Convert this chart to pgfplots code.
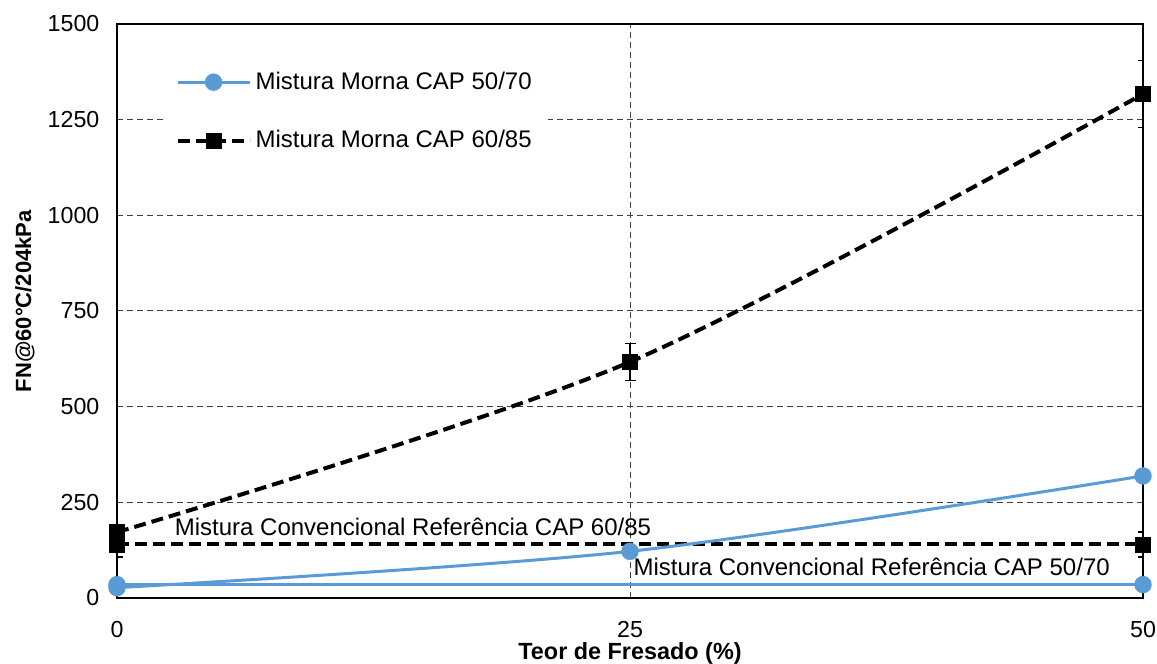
\documentclass[border=0pt]{standalone}
\usepackage{fontspec}
\setmainfont{Liberation Sans}
\usepackage{pgfplots}
\pgfplotsset{compat=1.18}
\usetikzlibrary{calc}
\definecolor{mblue}{RGB}{91,155,213}
\begin{document}
\begin{tikzpicture}
\begin{axis}[
  scale only axis, width=513pt, height=287pt,
  xmin=0, xmax=50, ymin=0, ymax=1500,
  xtick={0,25,50}, ytick={0,250,...,1500},
  grid=major,
  major grid style={dash pattern=on 3pt off 2pt, black!75, line width=0.5pt},
  major tick length=0pt,
  axis line style={line width=1pt},
  tick label style={font=\fontsize{11.6}{13}\selectfont},
  /pgf/number format/assume math mode=true,
  /pgf/number format/set thousands separator={},
  yticklabel style={xshift=-5.3pt},
  xticklabel style={yshift=-8pt},
  xlabel={Teor de Fresado (\%)},
  ylabel={FN@60°C/204kPa},
  xlabel style={font=\bfseries\fontsize{11.7}{13}\selectfont, at={(axis description cs:0.5,-0.0958)}, anchor=center},
  ylabel style={font=\bfseries\fontsize{11}{13}\selectfont, at={(axis description cs:-0.0897,0.517)}, anchor=center},
  legend style={at={(0.045,0.945)}, anchor=north west, draw=none, fill=white,
    font=\fontsize{12}{14}\selectfont, row sep=15pt, inner xsep=6pt, inner ysep=6pt},
  legend cell align=left,
  legend image code/.code={\draw[mark repeat=2,mark phase=2,#1] plot coordinates {(0pt,0pt) (18pt,0pt) (36pt,0pt)};},
]
\coordinate (sw) at (rel axis cs:0,0);
\coordinate (ne) at (rel axis cs:1,1);
% reference lines
\addplot[forget plot, mblue, line width=1.5pt, mark=*, mark size=4.2pt, mark options={line width=0.3pt}] coordinates {(0,35) (50,35)};
\addplot[forget plot, black, line width=2pt, dash pattern=on 6pt off 3pt, mark=square*, mark size=3.8pt, mark options={solid, line width=0.3pt},
  error bars/.cd, y dir=both, y explicit,
  error bar style={solid, line width=0.75pt},
  error mark options={rotate=90, mark size=2.75pt, solid, line width=0.75pt}]
  coordinates {(0,140) +- (0,33) (50,140) +- (0,33)};
% warm mixes
\addplot[mblue, line width=1.5pt, mark=*, mark size=4.2pt, mark options={line width=0.3pt}, smooth] coordinates {(0,27) (25,122) (50,319)};
\addlegendentry{Mistura Morna CAP 50/70}
\addplot[black, line width=2pt, dash pattern=on 6pt off 3pt, mark=square*, mark size=3.8pt, mark options={solid, line width=0.3pt}, smooth,
  error bars/.cd, y dir=both, y explicit,
  error bar style={solid, line width=0.75pt},
  error mark options={rotate=90, mark size=2.75pt, solid, line width=0.75pt}]
  coordinates {(0,172) +- (0,20) (25,617) +- (0,48) (50,1317) +- (0,88)};
\addlegendentry{Mistura Morna CAP 60/85}
\node[anchor=west, font=\fontsize{12}{14}\selectfont, inner sep=0pt] at (axis cs:2.8,185) {Mistura Convencional Referência CAP 60/85};
\node[anchor=east, font=\fontsize{12}{14}\selectfont, inner sep=0pt] at (axis cs:48.4,81) {Mistura Convencional Referência CAP 50/70};
\end{axis}
\pgfresetboundingbox
\path[use as bounding box] ($(sw)+(-58.5pt,-32.5pt)$) rectangle ($(ne)+(7pt,12pt)$);
\end{tikzpicture}
\end{document}
